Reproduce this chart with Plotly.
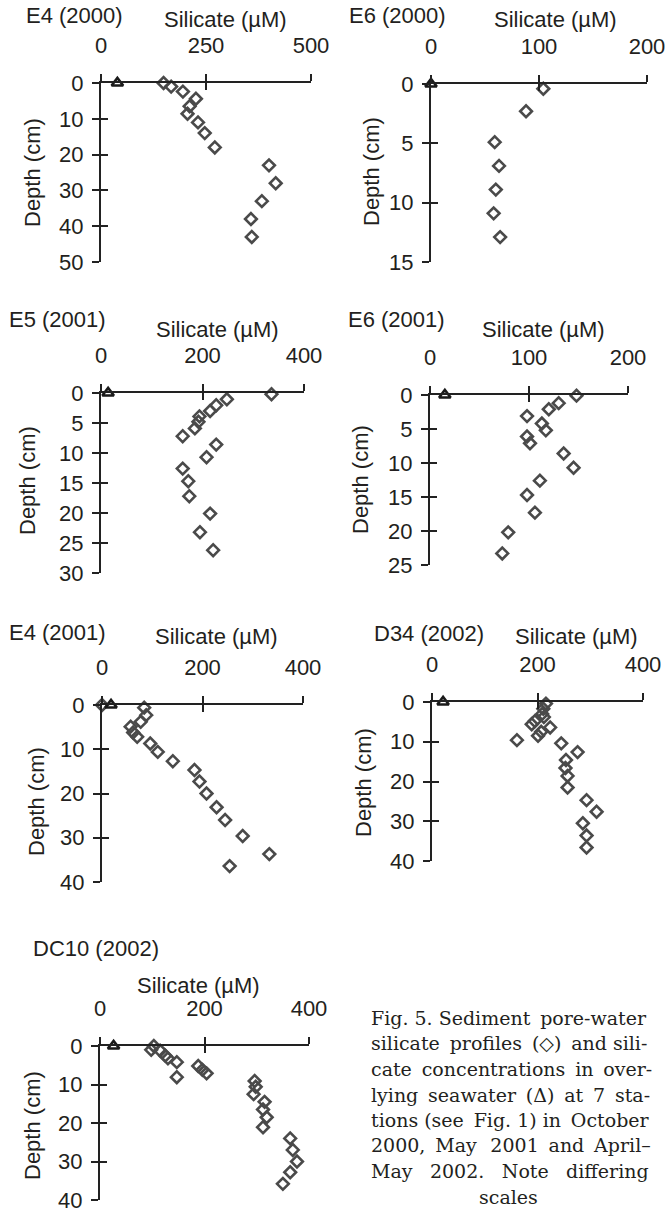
import plotly.graph_objects as go

# ---------------- data ----------------
stations = ["E4 (2000)", "E6 (2000)", "E5 (2001)", "E6 (2001)", "E4 (2001)", "D34 (2002)", "DC10 (2002)"]

e4_2000_depth = [0, 1, 2.4, 4.4, 6.5, 8.6, 11, 14, 18, 23, 28, 33, 38, 43]
e4_2000_si = [149, 167, 195, 226, 211, 206, 231, 247, 271, 400, 416, 383, 357, 359]
e4_2000_water = [39]

e6_2000_depth = [0.4, 2.3, 4.9, 6.9, 8.9, 10.9, 12.9]
e6_2000_si = [104, 88, 59, 63, 60, 58, 64]
e6_2000_water = [0]

e5_2001_depth = [0.2, 1.05, 2.05, 3.0, 3.9, 4.8, 5.9, 7.2, 8.6, 10.7, 12.6, 14.7, 17.2, 20.1, 23.2, 26.2]
e5_2001_si = [336, 248, 227, 215, 194, 192, 185, 161, 227, 208, 161, 172, 174, 215, 195, 221]
e5_2001_water = [14]

e6_2001_depth = [0.1, 1.2, 2.1, 3.1, 4.2, 5.2, 6.1, 7.1, 8.6, 10.7, 12.6, 14.7, 17.3, 20.2, 23.3]
e6_2001_si = [148, 130, 120, 98, 113, 117, 98, 101, 135, 145, 111, 98, 106, 79, 73]
e6_2001_water = [15]

e4_2001_depth = [0, 0.6, 2.3, 3.8, 4.9, 6.2, 7.2, 8.7, 10.6, 12.7, 14.7, 17.3, 20, 23.1, 26, 29.6, 33.7, 36.4]
e4_2001_si = [0, 84, 88, 77, 57, 62, 70, 96, 111, 141, 184, 194, 208, 228, 245, 280, 333, 254]
e4_2001_water = [18]

d34_2002_depth = [0.4, 1.7, 3.0, 3.8, 4.8, 5.6, 6.4, 7.5, 8.5, 9.6, 10.4, 12.6, 14.6, 16.6, 18.6, 21.5, 24.7, 27.6, 30.5, 33.6, 36.6]
d34_2002_si = [216, 211, 209, 212, 195, 189, 224, 207, 201, 161, 245, 276, 254, 253, 257, 257, 293, 312, 286, 293, 293]
d34_2002_water = [21]

dc10_2002_depth = [0, 1, 1.2, 2.5, 3.2, 4.2, 5.2, 6.2, 7.1, 8.1, 9.1, 10.6, 12.5, 14.5, 16.5, 18.5, 21.1, 24, 27, 30, 32.8, 35.8]
dc10_2002_si = [103, 98, 115, 125, 130, 147, 188, 196, 204, 147, 296, 298, 294, 315, 312, 319, 312, 364, 369, 377, 364, 350]
dc10_2002_water = [26]

x_max = [500, 200, 400, 200, 400, 400, 400]
x_ticks = [[0, 250, 500], [0, 100, 200], [0, 200, 400], [0, 100, 200], [0, 200, 400], [0, 200, 400], [0, 200, 400]]
y_max = [50, 15, 30, 25, 40, 40, 40]
y_ticks = [[0, 10, 20, 30, 40, 50], [0, 5, 10, 15], [0, 5, 10, 15, 20, 25, 30], [0, 5, 10, 15, 20, 25],
           [0, 10, 20, 30, 40], [0, 10, 20, 30, 40], [0, 10, 20, 30, 40]]

profiles = [
    (e4_2000_depth, e4_2000_si, e4_2000_water),
    (e6_2000_depth, e6_2000_si, e6_2000_water),
    (e5_2001_depth, e5_2001_si, e5_2001_water),
    (e6_2001_depth, e6_2001_si, e6_2001_water),
    (e4_2001_depth, e4_2001_si, e4_2001_water),
    (d34_2002_depth, d34_2002_si, d34_2002_water),
    (dc10_2002_depth, dc10_2002_si, dc10_2002_water),
]

TH = "\u2009"   # thin space, used to stretch lines towards a justified look
caption_lines = [
    "Fig. 5. Sediment" + TH + " pore-water",
    "silicate" + TH + " profiles" + TH + " (\u25c7)" + TH + " and sili-",
    "cate" + TH + " concentrations" + TH + " in" + TH + " over-",
    "lying" + TH + " seawater" + TH + " (\u0394)" + TH + " at" + TH + " 7" + TH + " sta-",
    "tions (see" + TH + " Fig. 1) in" + TH + " October",
    "2000," + TH + " May" + TH + TH + " 2001" + TH + " and" + TH + " April\u2013",
    "May" + TH * 3 + " 2002." + TH * 3 + " Note" + TH * 3 + " differing",
    "scales",
]

# ---------------- layout geometry (pixels) ----------------
W, H = 665, 1212
# plot area: left, right, top(depth 0), bottom(depth max)
boxes = [
    (101, 311, 83, 262),
    (431, 647, 84, 262),
    (101, 304, 393, 573),
    (430, 628, 395, 565),
    (102, 303, 705, 882),
    (432, 643, 702, 861),
    (100, 309, 1046, 1200),
]
station_pos = [(24, 15), (347, 15), (7, 320), (346, 320), (7, 632), (372, 633), (31, 948)]
si_title_pos = [(225, 20), (555, 20), (217, 329), (543, 329), (216, 637), (576, 636), (198, 985)]
depth_title_pos = [(33, 173), (371, 172), (27, 481), (360, 480), (36, 802), (363, 783), (32, 1126)]

FONT = "Liberation Sans, Arial, Helvetica, sans-serif"
SERIF = "DejaVu Serif, Liberation Serif, serif"
TXT = "#231f20"
FS = 22
AX = "#222222"

fig = go.Figure()
layout = dict(
    template="none",
    width=W, height=H, margin=dict(l=0, r=0, t=0, b=0, pad=0, autoexpand=False),
    paper_bgcolor="white", plot_bgcolor="white", showlegend=False,
    font=dict(family=FONT, size=FS, color=TXT),
)

annotations = []
for i, (prof, box) in enumerate(zip(profiles, boxes)):
    depth, si, water = prof
    l, r, t, b = box
    xd = [l / W, r / W]
    yd = [1 - b / H, 1 - t / H]
    xa = 2 * i + 1
    xo = 2 * i + 2
    xs = "" if xa == 1 else str(xa)
    xos = str(xo)

    fig.add_trace(go.Scatter(
        x=si, y=depth, mode="markers", xaxis="x" + xs, yaxis="y" + xs, cliponaxis=False,
        marker=dict(symbol="diamond-open", size=9, color="#4a4a4a", line=dict(width=2.6, color="#4a4a4a")),
    ))
    fig.add_trace(go.Scatter(
        x=water, y=[0] * len(water), mode="markers", xaxis="x" + xs, yaxis="y" + xs, cliponaxis=False,
        marker=dict(symbol="triangle-up-open", size=10, color="#1a1a1a", line=dict(width=2.6, color="#1a1a1a")),
    ))
    # empty trace registering the overlay axes (inner half of the crossing ticks)
    fig.add_trace(go.Scatter(x=[], y=[], xaxis="x" + xos, yaxis="y" + xos, showlegend=False, hoverinfo="skip"))

    common_x = dict(range=[0, x_max[i]], tickmode="array", tickvals=x_ticks[i], showgrid=False,
                    zeroline=False, fixedrange=True, automargin=False)
    common_y = dict(range=[y_max[i], 0], tickmode="array", tickvals=y_ticks[i], showgrid=False,
                    zeroline=False, fixedrange=True, automargin=False)

    layout["xaxis" + xs] = dict(
        domain=xd, anchor="y" + xs, side="top", showline=True, linecolor=AX, linewidth=2,
        ticks="outside", ticklen=7, tickwidth=2, tickcolor=AX, ticklabelstandoff=12,
        ticklabeloverflow="allow",
        tickfont=dict(family=FONT, size=FS, color=TXT), **common_x)
    layout["yaxis" + xs] = dict(
        domain=yd, anchor="x" + xs, side="left", showline=True, linecolor=AX, linewidth=2,
        ticks="outside", ticklen=7, tickwidth=2, tickcolor=AX, ticklabelstandoff=4,
        ticklabeloverflow="allow",
        tickfont=dict(family=FONT, size=FS, color=TXT), **common_y)
    layout["xaxis" + xos] = dict(
        domain=xd, anchor="y" + xos, overlaying="x" + xs, side="top", showline=False,
        ticks="inside", ticklen=7, tickwidth=2, tickcolor=AX, showticklabels=False, **common_x)
    layout["yaxis" + xos] = dict(
        domain=yd, anchor="x" + xos, overlaying="y" + xs, side="left", showline=False,
        ticks="inside", ticklen=7, tickwidth=2, tickcolor=AX, showticklabels=False, **common_y)

    sx, sy = station_pos[i]
    annotations.append(dict(text=stations[i], x=sx / W, y=1 - sy / H, xref="paper", yref="paper",
                            xanchor="left", yanchor="middle", showarrow=False,
                            font=dict(family=FONT, size=FS, color=TXT)))
    tx, ty = si_title_pos[i]
    annotations.append(dict(text="Silicate (\u00b5M)", x=tx / W, y=1 - ty / H, xref="paper", yref="paper",
                            xanchor="center", yanchor="middle", showarrow=False,
                            font=dict(family=FONT, size=FS, color=TXT)))
    dx, dy = depth_title_pos[i]
    annotations.append(dict(text="Depth (cm)", x=dx / W, y=1 - dy / H, xref="paper", yref="paper",
                            xanchor="center", yanchor="middle", textangle=-90, showarrow=False,
                            font=dict(family=FONT, size=FS, color=TXT)))

# caption
cap_left, cap_right = 369, 648
cap_y = [1018, 1043, 1069, 1095, 1120, 1145, 1171, 1197]
for j, (line, yy) in enumerate(zip(caption_lines, cap_y)):
    last = j == len(caption_lines) - 1
    annotations.append(dict(
        text=line, x=((cap_left + cap_right) / 2 if last else cap_left) / W, y=1 - yy / H,
        xref="paper", yref="paper", xanchor="center" if last else "left", yanchor="middle",
        showarrow=False, font=dict(family=SERIF, size=19, color=TXT)))

layout["annotations"] = annotations
fig.update_layout(**layout)
fig.write_html(
    "out.html",
    config={"displayModeBar": False, "staticPlot": True},
    post_script="document.body.style.margin='0';document.body.style.overflow='hidden';",
)
